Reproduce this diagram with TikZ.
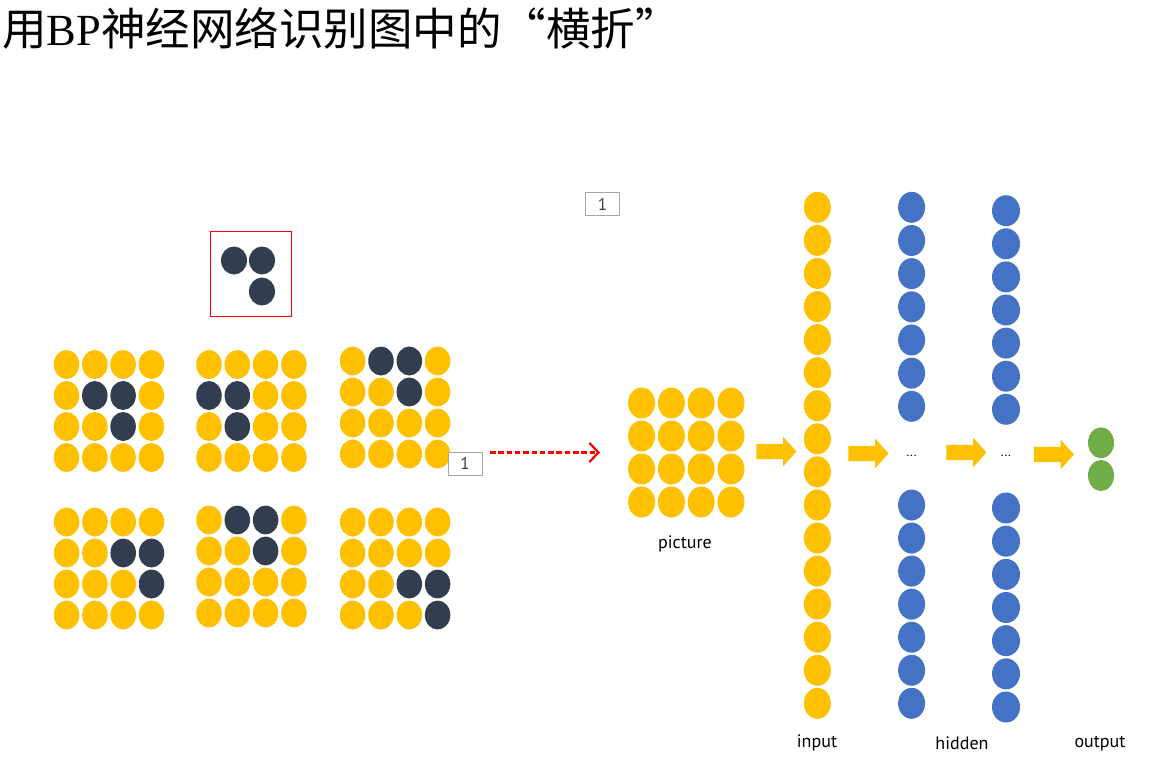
\documentclass[tikz,border=0pt]{standalone}
\usepackage{fontspec}
\setmainfont{Liberation Serif}
\newfontfamily\cjk{Noto Sans CJK SC}
\newfontfamily\labfont{PT Sans}
\usetikzlibrary{shapes.geometric,shapes.arrows,arrows.meta}
\definecolor{gold}{HTML}{FFC000}
\definecolor{slate}{HTML}{323E4F}
\definecolor{nblue}{HTML}{4472C4}
\definecolor{ngreen}{HTML}{70AD47}
\definecolor{boxgray}{HTML}{A6A6A6}
\definecolor{numgray}{HTML}{404040}
\newcommand\dotgrid[4]{%
  \foreach \r in {0,...,3}{
    \foreach \c in {0,...,3}{
      \pgfmathtruncatemacro\kk{\r*4+\c}
      \pgfmathtruncatemacro\vv{{#4}[\kk]}
      \ifnum\vv=1 \def\colr{slate}\else\def\colr{gold}\fi
      \node[gdot, fill=\colr] (#1-\r-\c) at ({#2+\c*28.3},{#3+\r*31}) {};
    }
  }
}
\begin{document}
\begin{tikzpicture}[x=1pt,y=-1pt,
  gdot/.style={ellipse, inner sep=0pt, minimum width=25.5pt, minimum height=29pt, draw=none},
  bdot/.style={ellipse, inner sep=0pt, minimum width=27pt, minimum height=31pt, draw=none},
  numbox/.style={draw=boxgray, line width=0.8pt, fill=white, minimum width=34pt, minimum height=23pt, inner sep=0pt, text=numgray, font=\labfont\fontsize{17}{17}\selectfont},
  lbl/.style={inner sep=0pt, font=\labfont\fontsize{18}{20}\selectfont},
  blockarrow/.style={single arrow, fill=gold, draw=none, inner xsep=0pt, inner ysep=7.5pt, minimum height=40pt, single arrow head extend=7pt, single arrow tip angle=96},
  ]
\useasboundingbox (0,0) rectangle (1165,784);

% title
\node[anchor=base west, inner sep=0pt] (title) at (2,46)
  {\fontsize{44.5}{50}\selectfont{\cjk 用}BP{\cjk 神经网络识别图中的“横折”}};

% template in red box
\node[draw=red, line width=1pt, minimum width=81pt, minimum height=85pt, inner sep=0pt] (tpl) at (250.5,273.5) {};
\node[gdot, fill=slate, minimum width=26pt, minimum height=28pt] (t1) at (234,260.5) {};
\node[gdot, fill=slate, minimum width=26pt, minimum height=28pt] (t2) at (262,260.5) {};
\node[gdot, fill=slate, minimum width=26pt, minimum height=28pt] (t3) at (262,291.5) {};

% six sample grids
\dotgrid{ga}{66.5}{364.5}{0,0,0,0, 0,1,1,0, 0,0,1,0, 0,0,0,0}
\dotgrid{gb}{209}{364.5}{0,0,0,0, 1,1,0,0, 0,1,0,0, 0,0,0,0}
\dotgrid{gc}{352.7}{361}{0,1,1,0, 0,0,1,0, 0,0,0,0, 0,0,0,0}
\dotgrid{gd}{66.6}{522}{0,0,0,0, 0,0,1,1, 0,0,0,1, 0,0,0,0}
\dotgrid{ge}{209}{520}{0,1,1,0, 0,0,1,0, 0,0,0,0, 0,0,0,0}
\dotgrid{gf}{352.7}{522}{0,0,0,0, 0,0,0,0, 0,0,1,1, 0,0,0,1}

% number boxes
\node[numbox] (nb1) at (465,463.5) {1};
\node[numbox] (nb2) at (602.5,204) {1};

% red dashed arrow
\coordinate (ra) at (490,452.5);
\coordinate (rb) at (600,452.5);
\draw[red, line width=2.2pt, dash pattern=on 5.5pt off 2.8pt,
  -{Straight Barb[length=9pt, width=19pt, line width=2.2pt]}] (ra) -- (rb);

% picture grid
\foreach \r in {0,...,3}{
  \foreach \c in {0,...,3}{
    \node[bdot, fill=gold] (p-\r-\c) at ({641.6+\c*29.8},{403+\r*33}) {};
  }
}
\node[lbl] (picl) at (685,544) {picture};

% input layer
\foreach \i in {0,...,15}{
  \node[bdot, fill=gold] (in-\i) at (817.4,{207.3+\i*33.07}) {};
}
% hidden layer 1
\foreach \i in {0,...,6}{
  \node[bdot, fill=nblue] (ha-\i) at (911.6,{207.3+\i*33.17}) {};
  \node[bdot, fill=nblue] (hb-\i) at (911.6,{505+\i*33.05}) {};
}
% hidden layer 2
\foreach \i in {0,...,6}{
  \node[bdot, fill=nblue, minimum width=28pt] (hc-\i) at (1006,{210.7+\i*33.1}) {};
  \node[bdot, fill=nblue, minimum width=28pt] (hd-\i) at (1006,{508+\i*33.17}) {};
}
\node[lbl, font=\labfont\fontsize{13}{13}\selectfont] (dots1) at (911.6,455.5) {...};
\node[lbl, font=\labfont\fontsize{13}{13}\selectfont] (dots2) at (1006,455.5) {...};
% output
\node[bdot, fill=ngreen, minimum width=26pt] (o1) at (1101,442.8) {};
\node[bdot, fill=ngreen, minimum width=26pt] (o2) at (1101,475.5) {};

% block arrows
\node[blockarrow] (a1) at (773,451.5) {};
\node[blockarrow] (a2) at (865,453.5) {};
\node[blockarrow] (a3) at (963,452.5) {};
\node[blockarrow] (a4) at (1050.5,454.5) {};

% labels
\node[lbl] (inl) at (817,743) {input};
\node[lbl] (hidl) at (962,743) {hidden};
\node[lbl] (outl) at (1100,744) {output};
\end{tikzpicture}
\end{document}
